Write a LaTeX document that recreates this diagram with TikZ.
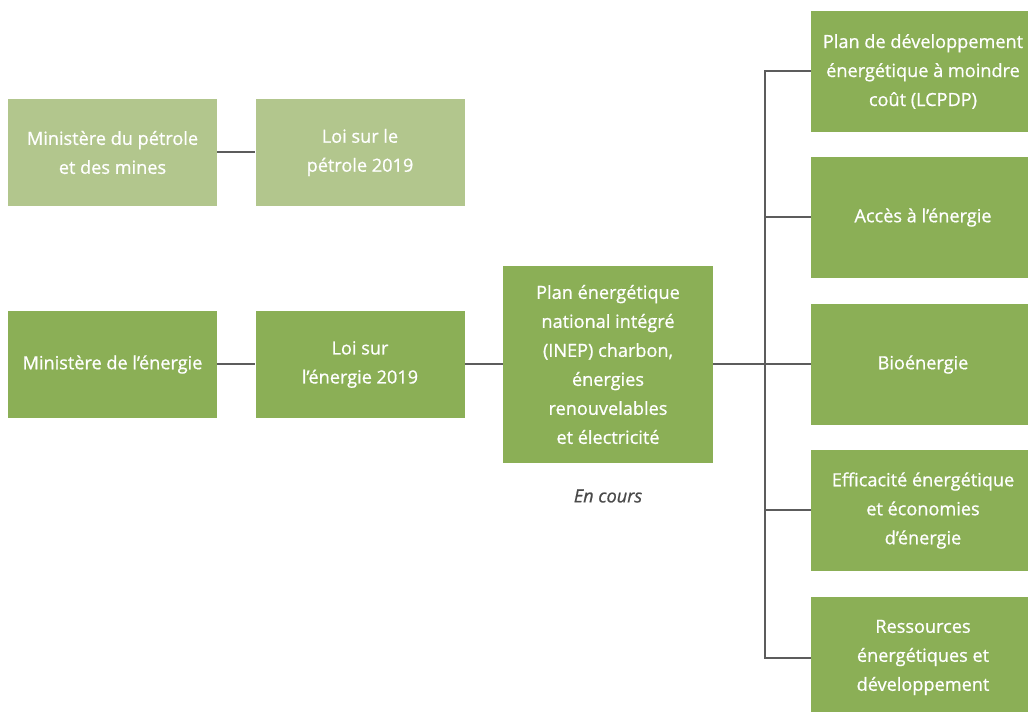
\documentclass[tikz,border=0pt]{standalone}
\usepackage{fontspec}
\setmainfont{Open Sans}[FakeBold=0.8]
\definecolor{darkgreen}{HTML}{8BAF56}
\definecolor{lightgreen}{HTML}{B2C68D}
\definecolor{linkgray}{HTML}{5C5C5C}
\definecolor{notegray}{HTML}{4A4A4A}
\begin{document}
\begin{tikzpicture}[x=0.75pt,y=-0.75pt,
  box/.style={fill=darkgreen, text=white, align=center, inner sep=0pt,
    font=\fontsize{13.6}{21.75}\selectfont},
  smallbox/.style={box, minimum width=156.75pt, minimum height=80.25pt},
  palebox/.style={smallbox, fill=lightgreen},
  sidebox/.style={box, minimum width=168pt, minimum height=90.75pt},
  link/.style={draw=linkgray, line width=1.5pt}]
\useasboundingbox (0,0) rectangle (1028,712);
\clip (0,0) rectangle (1028,712);

% petroleum branch
\node[palebox] (minpet) at (112.5,152.5) {Ministère du pétrole\\et des mines};
\node[palebox] (loipet) at (360,152.5) {Loi sur le\\pétrole 2019};

% energy branch
\node[smallbox] (minen) at (112.5,364.5) {Ministère de l’énergie};
\node[smallbox] (loien) at (360,364.5) {Loi sur\\l’énergie 2019};
\node[box, minimum width=157.5pt, minimum height=147.75pt] (inep) at (608,364.5)
  {Plan énergétique\\national intégré\\(INEP) charbon,\\énergies\\renouvelables\\et électricité};
\node[text=notegray, font=\fontsize{13.6}{15}\selectfont\itshape] (status) at (608,496) {En cours};

% programmes
\node[sidebox] (r1) at (923,71.5) {Plan de développement\\énergétique à moindre\\coût (LCPDP)};
\node[sidebox] (r2) at (923,217.5) {Accès à l’énergie};
\node[sidebox] (r3) at (923,364.5) {Bioénergie};
\node[sidebox] (r4) at (923,510.5) {Efficacité énergétique\\et économies\\d’énergie};
\node[sidebox] (r5) at (923,657.5) {Ressources\\énergétiques et\\développement};

% connectors
\coordinate (spine) at (765,364.5);
\draw[link] (minpet) -- (loipet);
\draw[link] (minen) -- (loien);
\draw[link] (loien) -- (inep);
\draw[link] (inep.east) -- (r3.west);
\draw[link] (r1.west) -- (r1.west -| spine) -- (r5.west -| spine) -- (r5.west);
\draw[link] (r2.west) -- (r2.west -| spine);
\draw[link] (r4.west) -- (r4.west -| spine);
\end{tikzpicture}
\end{document}
